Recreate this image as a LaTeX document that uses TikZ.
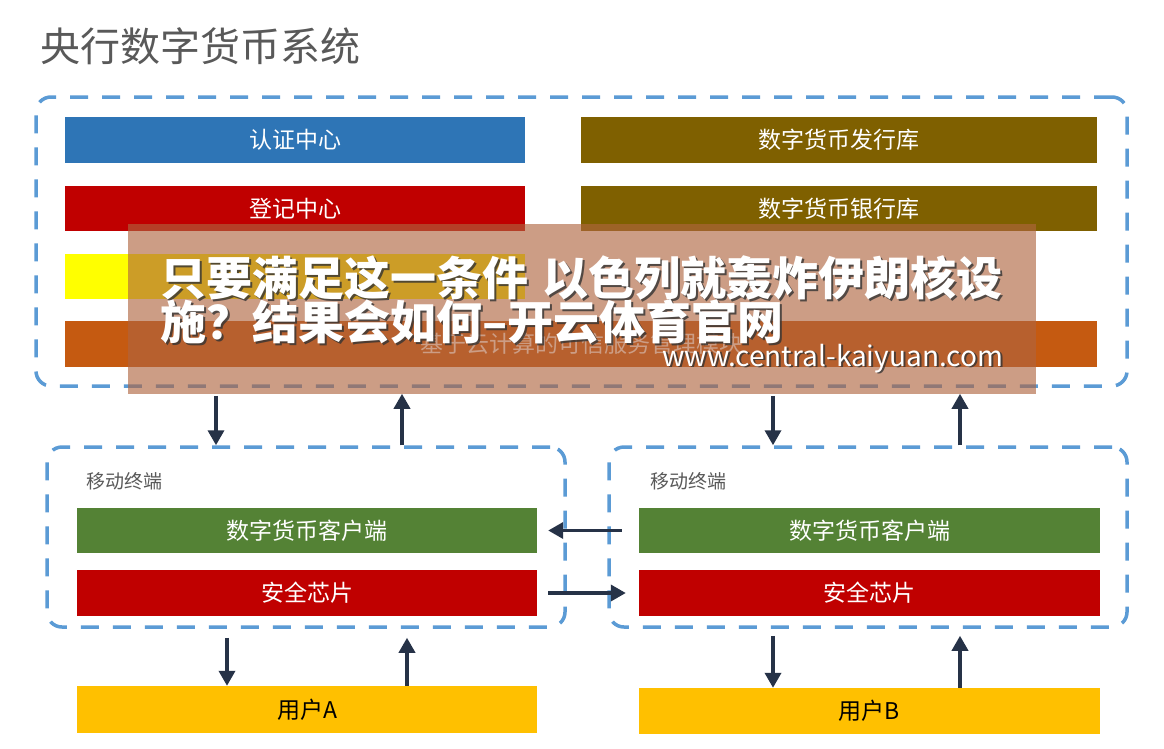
\documentclass[tikz,border=0pt]{standalone}
\usepackage{fontspec}
\setmainfont{Noto Sans CJK SC}
\usetikzlibrary{arrows.meta}
\definecolor{dashblue}{RGB}{91,155,213}
\definecolor{cblue}{RGB}{46,117,182}
\definecolor{cred}{RGB}{192,0,0}
\definecolor{cyellow}{RGB}{255,255,0}
\definecolor{corange}{RGB}{197,90,17}
\definecolor{cbrown}{RGB}{127,96,0}
\definecolor{cgreen}{RGB}{84,130,53}
\definecolor{cgold}{RGB}{255,192,0}
\definecolor{arrcol}{RGB}{38,50,71}
\definecolor{titlegray}{RGB}{89,89,89}
\definecolor{overlaycol}{RGB}{175,101,63}
\begin{document}
\begin{tikzpicture}[x=1pt,y=-1pt,
  bar/.style={fill=#1, draw=none, inner sep=0pt, text=white, font=\fontsize{23}{25}\selectfont},
  dbox/.style={draw=dashblue, line width=3.5pt, dash pattern=on 18pt off 14pt, rounded corners=15pt, inner sep=0pt},
  arr/.style={draw=arrcol, line width=3.5pt, -{Triangle[length=15pt,width=16pt]}},
  bannertext/.style={anchor=base west, inner sep=0pt, font=\fontsize{46}{48}\selectfont\bfseries},
  urltext/.style={anchor=base west, inner sep=0pt, font=\fontsize{28}{30}\selectfont}
]
\useasboundingbox (0,0) rectangle (1164,748);
\fill[white] (0,0) rectangle (1164,748);

% title
\node[anchor=west, inner sep=0pt, text=titlegray, font=\fontsize{40}{42}\selectfont] (title) at (40,46) {央行数字货币系统};

% outer system box
\node[dbox, minimum width=1091pt, minimum height=289pt] (outer) at (581.5,241.5) {};

\node[bar=cblue, minimum width=460pt, minimum height=46pt] (auth) at (295,140) {认证中心};
\node[bar=cred, minimum width=460pt, minimum height=45pt] (reg) at (295,208.5) {登记中心};
\node[bar=cyellow, minimum width=460pt, minimum height=45pt] (yel) at (295,276.5) {};
\node[bar=corange, minimum width=1032pt, minimum height=46pt] (tsm) at (581,344) {基于云计算的可信服务管理模块};
\node[bar=cbrown, minimum width=516pt, minimum height=46pt] (issue) at (839,140) {数字货币发行库};
\node[bar=cbrown, minimum width=516pt, minimum height=45pt] (bank) at (839,208.5) {数字货币银行库};

% terminals
\node[dbox, minimum width=518pt, minimum height=180pt] (termL) at (306,537) {};
\node[dbox, minimum width=518pt, minimum height=180pt] (termR) at (868,537) {};
\node[anchor=west, inner sep=0pt, text=titlegray, font=\fontsize{19}{21}\selectfont] (labL) at (86,481) {移动终端};
\node[anchor=west, inner sep=0pt, text=titlegray, font=\fontsize{19}{21}\selectfont] (labR) at (650,481) {移动终端};

\node[bar=cgreen, minimum width=460pt, minimum height=45pt] (clientL) at (307,530.5) {数字货币客户端};
\node[bar=cred, minimum width=460pt, minimum height=46pt] (chipL) at (307,593) {安全芯片};
\node[bar=cgreen, minimum width=461pt, minimum height=45pt] (clientR) at (869.5,530.5) {数字货币客户端};
\node[bar=cred, minimum width=461pt, minimum height=46pt] (chipR) at (869.5,593) {安全芯片};

\node[bar=cgold, text=black, minimum width=460pt, minimum height=47pt] (userA) at (307,709.5) {用户A};
\node[bar=cgold, text=black, minimum width=461pt, minimum height=46pt] (userB) at (869.5,711) {用户B};

% arrow x positions
\coordinate (a1) at (216,0);
\coordinate (a2) at (402,0);
\coordinate (a3) at (773,0);
\coordinate (a4) at (960,0);
\coordinate (b1) at (227,0);
\coordinate (b2) at (407,0);

\draw[arr, shorten <=8pt] (outer.south -| a1) -- (termL.north -| a1);
\draw[arr, shorten >=6pt] (termL.north -| a2) -- (outer.south -| a2);
\draw[arr, shorten <=8pt] (outer.south -| a3) -- (termR.north -| a3);
\draw[arr, shorten >=6pt] (termR.north -| a4) -- (outer.south -| a4);

\draw[arr, shorten <=17pt, shorten >=11pt] (clientR.west) -- (clientL.east);
\draw[arr, shorten <=11pt, shorten >=13pt] (chipL.east) -- (chipR.west);

\draw[arr, shorten <=9pt] (termL.south -| b1) -- (userA.north -| b1);
\draw[arr, shorten >=9pt] (userA.north -| b2) -- (termL.south -| b2);
\draw[arr, shorten <=7pt] (termR.south -| a3) -- (userB.north -| a3);
\draw[arr, shorten >=7pt] (userB.north -| a4) -- (termR.south -| a4);

% overlay banner
\fill[overlaycol, fill opacity=0.63] (128,224) rectangle (1036,394);
\node[bannertext, text=black!80, opacity=0.8] at (162.5,297.5) {只要满足这一条件\hspace{0.3em}以色列就轰炸伊朗核设};
\node[bannertext, text=white] (ban1) at (160,295) {只要满足这一条件\hspace{0.3em}以色列就轰炸伊朗核设};
\node[bannertext, text=black!80, opacity=0.8] at (162.5,341.5) {施？结果会如何–开云体育官网};
\node[bannertext, text=white] (ban2) at (160,339) {施？结果会如何–开云体育官网};
\node[urltext, text=black!80, opacity=0.8] at (664,367.5) {www.central-kaiyuan.com};
\node[urltext, text=white] (url) at (662,366) {www.central-kaiyuan.com};
\end{tikzpicture}
\end{document}
